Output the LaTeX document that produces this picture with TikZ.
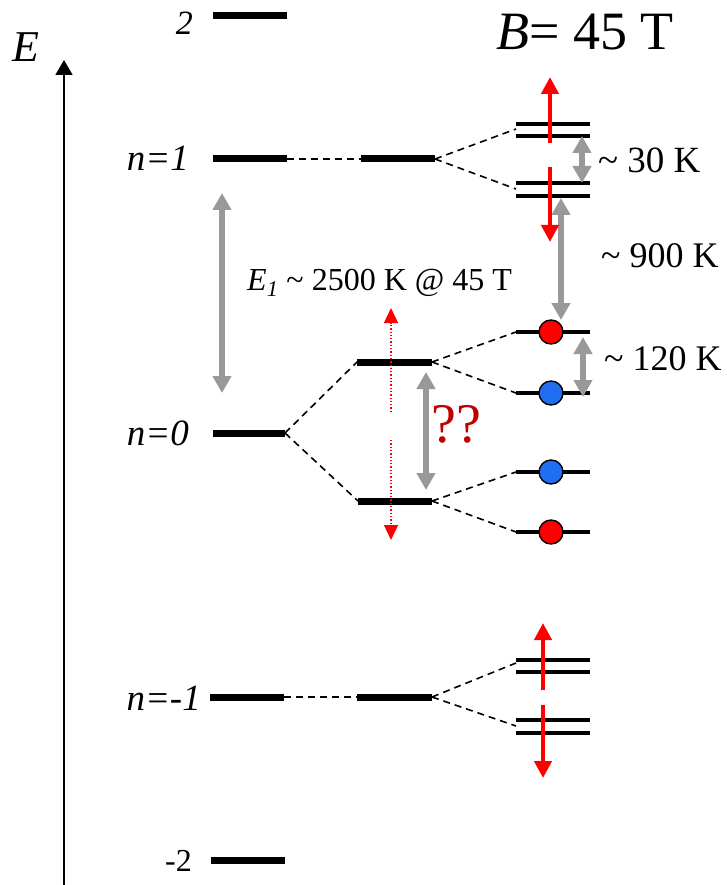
\documentclass[tikz,border=0pt]{standalone}
\usepackage{fontspec}
\setmainfont{Liberation Serif}
\usetikzlibrary{arrows.meta}
\definecolor{garrow}{HTML}{999999}
\definecolor{qred}{HTML}{C00000}
\definecolor{cblue}{HTML}{1F6FF0}
\definecolor{cred}{HTML}{FF0000}
\newcommand{\fs}[1]{\fontsize{#1}{#1}\selectfont}
\begin{document}
\begin{tikzpicture}[x=1pt,y=-1pt,
  lev/.style={line width=7pt},
  slev/.style={line width=4.5pt},
  clev/.style={line width=4pt},
  dsh/.style={line width=1.6pt,dash pattern=on 7pt off 5pt},
  garr/.style={garrow,line width=6pt,{Triangle[width=18pt,length=17pt]}-{Triangle[width=18pt,length=17pt]}},
  rarr/.style={cred,line width=4.5pt,-{Triangle[width=17pt,length=17pt]}},
  rdot/.style={cred,line width=1.3pt,dotted,-{Triangle[width=14pt,length=15pt]}},
  dot/.style={circle,draw=black,line width=1.4pt,minimum size=24pt,inner sep=0pt},
  lab/.style={inner sep=0pt},
]
\useasboundingbox (0,0) rectangle (727,885);

% axis
\coordinate (ax0) at (64,885);
\coordinate (ax1) at (64,60);
\draw[line width=1.8pt,-{Triangle[width=17pt,length=15pt]}] (ax0) -- (ax1);
\node[lab,anchor=base west,font=\fs{44}\itshape] (Elab) at (12,62) {E};

% level 2
\coordinate (t2a) at (213,16); \coordinate (t2b) at (287,16);
\draw[lev] (t2a) -- (t2b);
\node[lab,anchor=base east,font=\fs{34}\itshape] (l2) at (193,35) {2};

% level n=1
\coordinate (p1a) at (213,159); \coordinate (p1b) at (287,159);
\coordinate (p1c) at (361,159); \coordinate (p1d) at (435,159);
\draw[lev] (p1a) -- (p1b);
\draw[lev] (p1c) -- (p1d);
\coordinate (p1r1a) at (516,124); \coordinate (p1r1b) at (590,124);
\coordinate (p1r2a) at (516,136); \coordinate (p1r2b) at (590,136);
\coordinate (p1r3a) at (516,183); \coordinate (p1r3b) at (590,183);
\coordinate (p1r4a) at (516,196); \coordinate (p1r4b) at (590,196);
\draw[slev] (p1r1a) -- (p1r1b);
\draw[slev] (p1r2a) -- (p1r2b);
\draw[slev] (p1r3a) -- (p1r3b);
\draw[slev] (p1r4a) -- (p1r4b);
\coordinate (p1u) at (516,129); \coordinate (p1l) at (516,189);
\draw[dsh] (p1b) -- (p1c);
\draw[dsh] (p1d) -- (p1u);
\draw[dsh] (p1d) -- (p1l);
\node[lab,anchor=base east,font=\fs{37}\itshape] (ln1) at (189,171) {n=1};

% level n=0
\coordinate (z0a) at (213,433); \coordinate (z0b) at (285,433);
\coordinate (zua) at (357,362); \coordinate (zub) at (432,362);
\coordinate (zla) at (358,501); \coordinate (zlb) at (432,501);
\draw[lev] (z0a) -- (z0b);
\draw[lev] (zua) -- (zub);
\draw[lev] (zla) -- (zlb);
\coordinate (zr1a) at (516,332); \coordinate (zr1b) at (590,332);
\coordinate (zr2a) at (516,393); \coordinate (zr2b) at (590,393);
\coordinate (zr3a) at (516,472); \coordinate (zr3b) at (590,472);
\coordinate (zr4a) at (516,532); \coordinate (zr4b) at (590,532);
\draw[clev] (zr1a) -- (zr1b);
\draw[clev] (zr2a) -- (zr2b);
\draw[clev] (zr3a) -- (zr3b);
\draw[clev] (zr4a) -- (zr4b);
\draw[dsh] (z0b) -- (zua);
\draw[dsh] (z0b) -- (zla);
\draw[dsh] (zub) -- (zr1a);
\draw[dsh] (zub) -- (zr2a);
\draw[dsh] (zlb) -- (zr3a);
\draw[dsh] (zlb) -- (zr4a);
\node[dot,fill=cred] (c1) at (551,332) {};
\node[dot,fill=cblue] (c2) at (551,393) {};
\node[dot,fill=cblue] (c3) at (551,472) {};
\node[dot,fill=cred] (c4) at (551,532) {};
\node[lab,anchor=base east,font=\fs{37}\itshape] (ln0) at (189,445) {n=0};

% level n=-1
\coordinate (m1a) at (210,697); \coordinate (m1b) at (284,697);
\coordinate (m1c) at (357,697); \coordinate (m1d) at (432,697);
\draw[lev] (m1a) -- (m1b);
\draw[lev] (m1c) -- (m1d);
\coordinate (m1r1a) at (516,660); \coordinate (m1r1b) at (590,660);
\coordinate (m1r2a) at (516,672); \coordinate (m1r2b) at (590,672);
\coordinate (m1r3a) at (516,720); \coordinate (m1r3b) at (590,720);
\coordinate (m1r4a) at (516,733); \coordinate (m1r4b) at (590,733);
\draw[slev] (m1r1a) -- (m1r1b);
\draw[slev] (m1r2a) -- (m1r2b);
\draw[slev] (m1r3a) -- (m1r3b);
\draw[slev] (m1r4a) -- (m1r4b);
\coordinate (m1u) at (516,663); \coordinate (m1l) at (516,726);
\draw[dsh] (m1b) -- (m1c);
\draw[dsh] (m1d) -- (m1u);
\draw[dsh] (m1d) -- (m1l);
\node[lab,anchor=base east,font=\fs{37}\itshape] (lnm1) at (201,710) {n=-1};

% level -2
\coordinate (b2a) at (211,860); \coordinate (b2b) at (285,860);
\draw[lev] (b2a) -- (b2b);
\node[lab,anchor=base east,font=\fs{32}] (lm2) at (192,871) {-2};

% gray arrows
\coordinate (g1a) at (222,193); \coordinate (g1b) at (222,393);
\draw[garr] (g1a) -- (g1b);
\coordinate (g2a) at (582,136); \coordinate (g2b) at (582,183);
\draw[garr] (g2a) -- (g2b);
\coordinate (g3a) at (561,198); \coordinate (g3b) at (561,320);
\draw[garr] (g3a) -- (g3b);
\coordinate (g4a) at (583,337); \coordinate (g4b) at (583,397);
\draw[garr] (g4a) -- (g4b);
\coordinate (g5a) at (426,372); \coordinate (g5b) at (426,490);
\draw[garr] (g5a) -- (g5b);

% red spin arrows
\coordinate (r1a) at (550,143); \coordinate (r1b) at (550,77);
\coordinate (r2a) at (550,167); \coordinate (r2b) at (550,242);
\coordinate (r3a) at (543,690); \coordinate (r3b) at (543,623);
\coordinate (r4a) at (543,705); \coordinate (r4b) at (543,778);
\draw[rarr] (r1a) -- (r1b);
\draw[rarr] (r2a) -- (r2b);
\draw[rarr] (r3a) -- (r3b);
\draw[rarr] (r4a) -- (r4b);

% red dotted arrows
\coordinate (d1a) at (391,412); \coordinate (d1b) at (391,308);
\coordinate (d2a) at (391,440); \coordinate (d2b) at (391,540);
\draw[rdot] (d1a) -- (d1b);
\draw[rdot] (d2a) -- (d2b);

% labels
\node[lab,anchor=base west,font=\fs{54}] (Blab) at (496,50) {\textit{B}= 45 T};
\node[lab,anchor=base west,font=\fs{37}] (k30) at (598,173) {\textasciitilde{} 30 K};
\node[lab,anchor=base west,font=\fs{36}] (k900) at (601,267) {\textasciitilde{} 900 K};
\node[lab,anchor=base west,font=\fs{36}] (k120) at (604,370) {\textasciitilde{} 120 K};
\node[lab,anchor=base west,font=\fs{32}] (e1) at (247,290) {\textit{E\textsubscript{1}} \textasciitilde{} 2500 K @ 45 T};
\node[lab,anchor=base west,font=\fs{56},text=qred] (qq) at (431,442) {??};
\end{tikzpicture}
\end{document}
